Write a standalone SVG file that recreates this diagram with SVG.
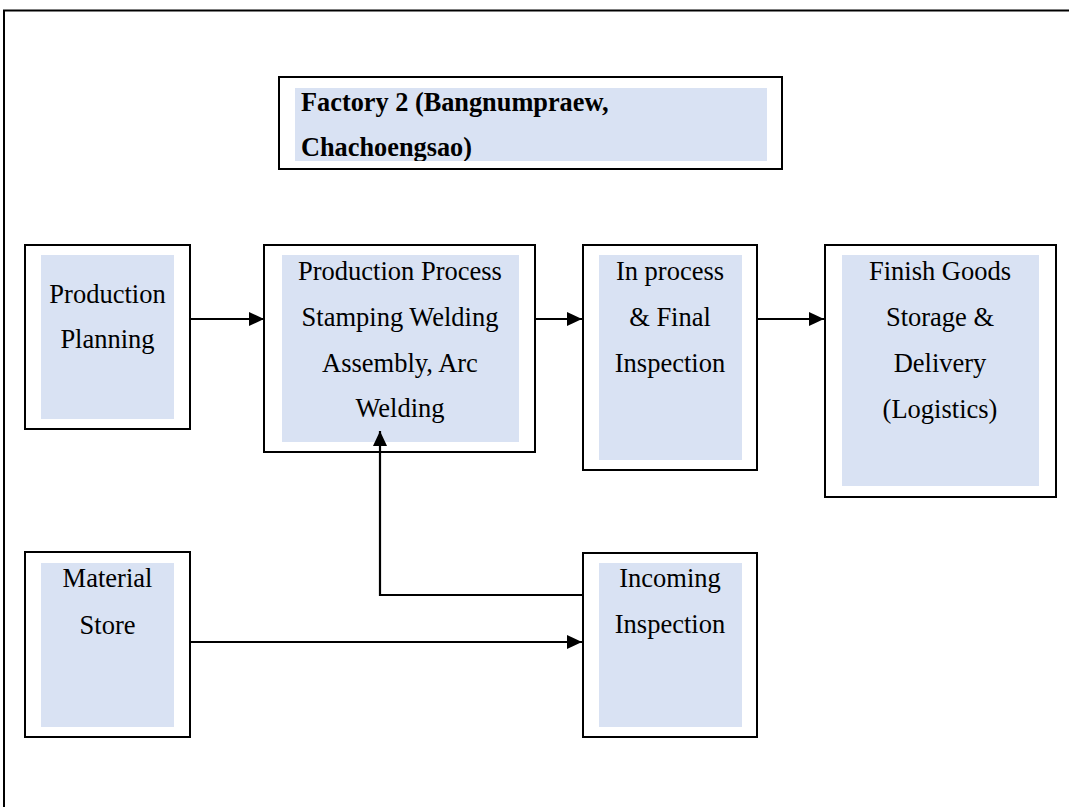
<svg xmlns="http://www.w3.org/2000/svg" width="1069" height="807" viewBox="0 0 1069 807">
  <style>
    .box { fill: #ffffff; stroke: #000000; stroke-width: 2; }
    .inner { fill: #D9E2F3; stroke: none; }
    .lbl { font-family: "Liberation Serif", "Times New Roman", serif; font-size: 26.5px; fill: #000000; text-anchor: middle; }
    .title { font-family: "Liberation Serif", "Times New Roman", serif; font-size: 26.3px; font-weight: bold; fill: #000000; }
    .conn { fill: none; stroke: #000000; stroke-width: 2.2; }
  </style>
  <defs>
    <marker id="arrow" markerUnits="userSpaceOnUse" markerWidth="16" markerHeight="15" refX="15" refY="7" orient="auto">
      <path d="M0,0 L15,7 L0,14 Z" fill="#000000"/>
    </marker>
    <clipPath id="titleClip">
      <rect x="295" y="88" width="472" height="73"/>
    </clipPath>
  </defs>

  <rect x="0" y="0" width="1069" height="807" fill="#ffffff"/>

  <!-- page frame -->
  <path d="M4,807 V10.5 H1069" fill="none" stroke="#000000" stroke-width="2"/>

  <!-- title -->
  <g id="title">
    <rect class="box" x="279" y="77" width="503" height="92"/>
    <rect class="inner" x="295" y="88" width="472" height="73"/>
    <g clip-path="url(#titleClip)">
      <text class="title" x="301" y="111">Factory 2 (Bangnumpraew,</text>
      <text class="title" x="301" y="156">Chachoengsao)</text>
    </g>
  </g>

  <g id="production-planning">
    <rect class="box" x="25" y="245" width="165" height="184"/>
    <rect class="inner" x="41" y="255" width="133" height="164"/>
    <text class="lbl" x="107.5" y="303">Production</text>
    <text class="lbl" x="107.5" y="348">Planning</text>
  </g>

  <g id="production-process">
    <rect class="box" x="264" y="245" width="271" height="207"/>
    <rect class="inner" x="282" y="255" width="237" height="187"/>
    <text class="lbl" x="400" y="280">Production Process</text>
    <text class="lbl" x="400" y="326">Stamping Welding</text>
    <text class="lbl" x="400" y="372">Assembly, Arc</text>
    <text class="lbl" x="400" y="417">Welding</text>
  </g>

  <g id="inspection">
    <rect class="box" x="583" y="245" width="174" height="225"/>
    <rect class="inner" x="599" y="255" width="143" height="205"/>
    <text class="lbl" x="670" y="280">In process</text>
    <text class="lbl" x="670" y="326">&amp; Final</text>
    <text class="lbl" x="670" y="372">Inspection</text>
  </g>

  <g id="finish-goods">
    <rect class="box" x="825" y="245" width="231" height="252"/>
    <rect class="inner" x="842" y="255" width="197" height="231"/>
    <text class="lbl" x="940" y="280">Finish Goods</text>
    <text class="lbl" x="940" y="326">Storage &amp;</text>
    <text class="lbl" x="940" y="372">Delivery</text>
    <text class="lbl" x="940" y="418">(Logistics)</text>
  </g>

  <g id="material-store">
    <rect class="box" x="25" y="552" width="165" height="185"/>
    <rect class="inner" x="41" y="563" width="133" height="164"/>
    <text class="lbl" x="107.5" y="587">Material</text>
    <text class="lbl" x="107.5" y="634">Store</text>
  </g>

  <g id="incoming-inspection">
    <rect class="box" x="583" y="553" width="174" height="184"/>
    <rect class="inner" x="599" y="563" width="143" height="164"/>
    <text class="lbl" x="670" y="587">Incoming</text>
    <text class="lbl" x="670" y="633">Inspection</text>
  </g>

  <g id="connectors">
    <path class="conn" d="M190,319 H264" marker-end="url(#arrow)"/>
    <path class="conn" d="M535,319 H582" marker-end="url(#arrow)"/>
    <path class="conn" d="M757,319 H824" marker-end="url(#arrow)"/>
    <path class="conn" d="M190,642 H582" marker-end="url(#arrow)"/>
    <path class="conn" d="M583,595 H380 V431" marker-end="url(#arrow)"/>
  </g>
</svg>
